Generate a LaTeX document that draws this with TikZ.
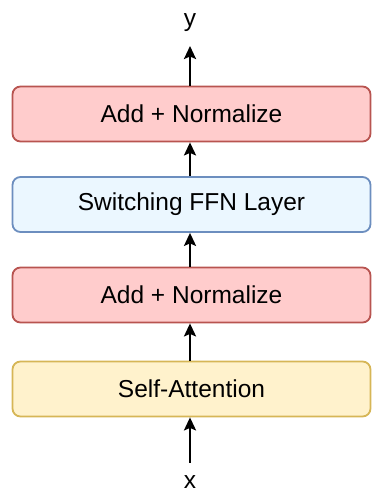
\documentclass[tikz,border=0pt]{standalone}
\usepackage{fontspec}
\setmainfont{Liberation Sans}
\usetikzlibrary{arrows.meta}
\definecolor{redfill}{HTML}{FFCCCC}
\definecolor{redline}{HTML}{B85450}
\definecolor{bluefill}{HTML}{EBF7FF}
\definecolor{blueline}{HTML}{6C8EBF}
\definecolor{yelfill}{HTML}{FFF2CC}
\definecolor{yelline}{HTML}{D6B656}
\begin{document}
\begin{tikzpicture}[x=1pt,y=1pt,
  box/.style={draw, rounded corners=8pt, line width=1.8pt, minimum width=358pt, minimum height=55pt, inner sep=0pt, font=\fontsize{24.5}{28}\selectfont},
  arr/.style={-{Stealth[length=13pt,width=12pt,inset=2.5pt]}, line width=2.4pt},
  lbl/.style={inner sep=0pt, anchor=base, font=\fontsize{24.5}{28}\selectfont}]
\useasboundingbox (0,0) rectangle (372,495);
\node[box, fill=redfill, draw=redline] (an2) at (191.5,381) {Add + Normalize};
\node[box, fill=bluefill, draw=blueline] (ffn) at (191.5,290.5) {Switching FFN Layer};
\node[box, fill=redfill, draw=redline] (an1) at (191.5,200) {Add + Normalize};
\node[box, fill=yelfill, draw=yelline] (sa) at (191.5,106) {Self-Attention};
\node[lbl] (y) at (190,468) {y};
\node[lbl] (x) at (190,6) {x};
\coordinate (ytip) at (190,449);
\coordinate (xtail) at (190,32);
\draw[arr] (xtail) -- (sa.south -| xtail);
\draw[arr] (sa.north -| xtail) -- (an1.south -| xtail);
\draw[arr] (an1.north -| xtail) -- (ffn.south -| xtail);
\draw[arr] (ffn.north -| xtail) -- (an2.south -| xtail);
\draw[arr] (an2.north -| ytip) -- (ytip);
\end{tikzpicture}
\end{document}
